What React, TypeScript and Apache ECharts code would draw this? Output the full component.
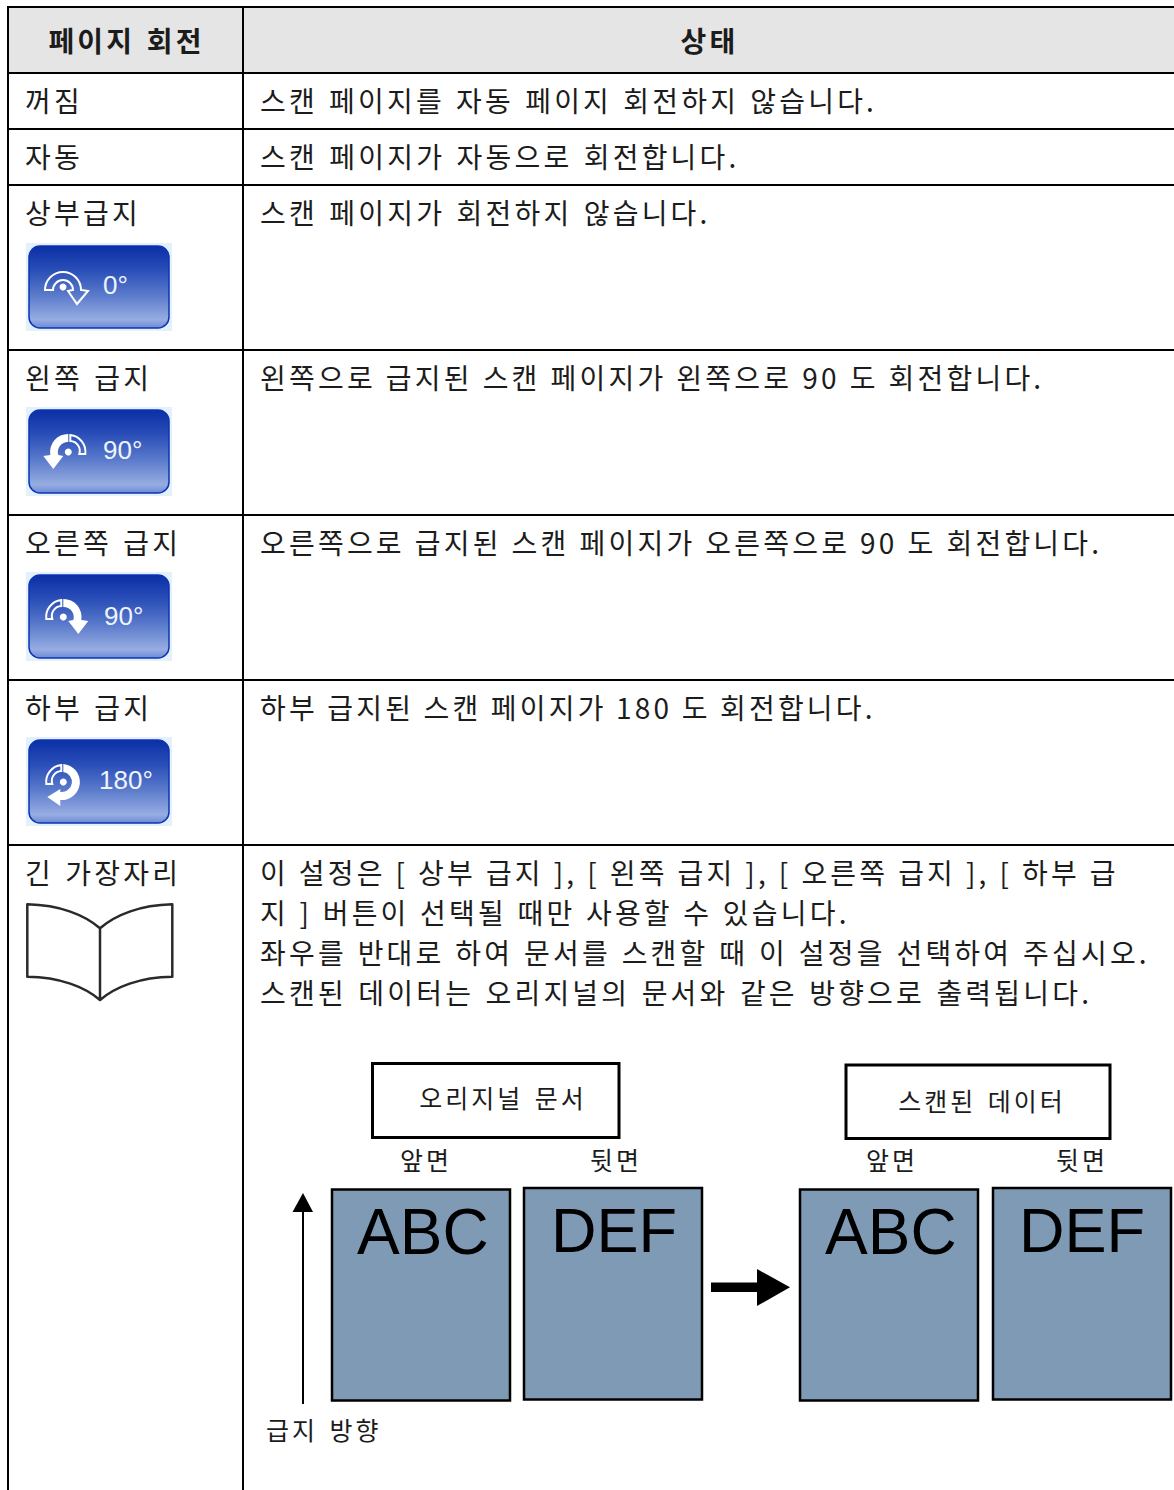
import React, { useEffect, useRef } from "react";
import * as echarts from "echarts";

const headers = ["페이지 회전", "상태"];
const settingLabels = ["꺼짐", "자동", "상부급지", "왼쪽 급지", "오른쪽 급지", "하부 급지", "긴 가장자리"];
const statusTexts = [
  "스캔 페이지를 자동 페이지 회전하지 않습니다.",
  "스캔 페이지가 자동으로 회전합니다.",
  "스캔 페이지가 회전하지 않습니다.",
  "왼쪽으로 급지된 스캔 페이지가 왼쪽으로 90 도 회전합니다.",
  "오른쪽으로 급지된 스캔 페이지가 오른쪽으로 90 도 회전합니다.",
  "하부 급지된 스캔 페이지가 180 도 회전합니다.",
];
const longEdgeLines = [
  "이 설정은 [ 상부 급지 ], [ 왼쪽 급지 ], [ 오른쪽 급지 ], [ 하부 급",
  "지 ] 버튼이 선택될 때만 사용할 수 있습니다.",
  "좌우를 반대로 하여 문서를 스캔할 때 이 설정을 선택하여 주십시오.",
  "스캔된 데이터는 오리지널의 문서와 같은 방향으로 출력됩니다.",
];
const buttonLabels = ["0°", "90°", "90°", "180°"];
const diagramTitles = ["오리지널 문서", "스캔된 데이터"];
const sideLabels = ["앞면", "뒷면"];
const pageLabels = ["ABC", "DEF"];
const feedLabel = "급지 방향";

const KR = "'Noto Sans CJK KR'";
const LAT = "'Liberation Sans'";

// word spacing per line (px), where numerals and brackets set narrower in the source
const wordSpacingOverrides: Record<string, number> = {
  [statusTexts[0]]: 1.7,
  [statusTexts[3]]: 0.5,
  [statusTexts[4]]: 0.5,
  [statusTexts[5]]: -0.1,
  [longEdgeLines[0]]: 0.4,
  [longEdgeLines[1]]: 1.05,
  [longEdgeLines[2]]: 1.3,
};

echarts.graphic.registerShape(
  "iconOutline",
  echarts.graphic.extendPath(
    "M-18,3 A18,18 0 1 1 18,3 L25,4 L14,17 L5,4 L10,3 A10,10 0 1 0 -10,3 Z",
    {}
  )
);
echarts.graphic.registerShape(
  "iconFilled90",
  echarts.graphic.extendPath("M0,-18 A18,18 0 0 1 18,3 L25,4 L15,17 L5,4 L10,3 A10,10 0 0 0 0,-10 Z", {})
);
echarts.graphic.registerShape(
  "iconHollow",
  echarts.graphic.extendPath("M-17,2 A17,17 0 0 1 -2,-17 L-2,-11 A10,10 0 0 0 -11,2 Z", {})
);
echarts.graphic.registerShape(
  "iconFilled180",
  echarts.graphic.extendPath("M0,-18 A18,18 0 1 1 -3,18 L-3,24 L-16,15 L-3,7 L-3,10 A10,10 0 1 0 0,-10 Z", {})
);
echarts.graphic.registerShape(
  "bookShape",
  echarts.graphic.extendPath(
    "M27.3,904.3 C60,905 85,915 100,928.3 C115,915 140,905 172.3,904.3 L172.3,976.7 C140,977 115,987 100,1000 C85,987 60,977 27.3,976.7 Z M100,928.3 L100,1000",
    {}
  )
);

function krText(text: string, x: number, y: number, fontSize = 28, align = "left", weight: any = "normal") {
  return {
    type: "text",
    x,
    y,
    style: {
      text,
      x: 0,
      y: 0,
      fill: "#1c1c1c",
      font: `${weight} ${fontSize}px ${KR}`,
      textAlign: align,
      textVerticalAlign: "middle",
    },
  };
}
function latText(text: string, x: number, y: number, fontSize: number, fill: string, extra: any = {}) {
  return {
    type: "text",
    x,
    y,
    style: {
      text,
      x: 0,
      y: 0,
      fill,
      font: `${fontSize}px ${LAT}`,
      textAlign: "left",
      textVerticalAlign: "middle",
      ...extra,
    },
  };
}
const block = (x: number, y: number, w: number, h: number, fill = "#000") => ({
  type: "rect",
  shape: { x, y, width: w, height: h },
  style: { fill },
});
const frame = (x0: number, y0: number, x1: number, y1: number, fill: string, lineWidth: number) => ({
  type: "rect",
  shape: { x: x0, y: y0, width: x1 - x0, height: y1 - y0 },
  style: { fill, stroke: "#000", lineWidth },
});

function button(top: number, bottom: number, label: string, labelX: number, textY: number, icon: any[]) {
  return [
    block(26, top - 3, 146, bottom - top + 6, "#e4f0fb"),
    {
      type: "rect",
      shape: { x: 29, y: top, width: 140, height: bottom - top, r: 11 },
      style: {
        stroke: "#0a35b4",
        lineWidth: 1.5,
        fill: new echarts.graphic.LinearGradient(0, 0, 0, 1, [
          { offset: 0, color: "#0b2fa6" },
          { offset: 0.3, color: "#2a4fb8" },
          { offset: 0.6, color: "#5a7acb" },
          { offset: 0.9, color: "#97ade2" },
          { offset: 1, color: "#6d8ad8" },
        ]),
      },
    },
    ...icon,
    latText(label, labelX, textY, 26, "#eef3fc"),
  ];
}
const dot = (x: number, y: number) => ({ type: "circle", shape: { cx: x, cy: y, r: 3.5 }, style: { fill: "#fff" } });
const outlineStyle = { fill: "none", stroke: "#fff", lineWidth: 2 };
const solidStyle = { fill: "#fff" };

function buildGraphics() {
  const els: any[] = [];
  els.push(block(8, 6, 1166, 67, "#e5e5e5"));
  [6, 72, 128, 184, 349, 514, 679, 844].forEach((y) => els.push(block(7, y, 1167, 2)));
  els.push(block(7, 6, 2, 1484));
  els.push(block(242, 6, 2, 1484));

  els.push(krText(headers[0], 126.5, 39.5, 28, "center", "bold"));
  els.push(krText(headers[1], 709.5, 39.5, 28, "center", "bold"));

  const labelY = [100, 156, 212, 377, 542, 707, 872];
  settingLabels.forEach((t, i) => els.push(krText(t, 25, labelY[i])));
  statusTexts.forEach((t, i) => els.push(krText(t, 260, labelY[i])));
  longEdgeLines.forEach((t, i) => els.push(krText(t, 260, 872 + i * 40)));

  els.push(
    ...button(246, 328, buttonLabels[0], 103, 285, [
      { type: "iconOutline", x: 63, y: 287, style: outlineStyle },
      dot(63, 287),
    ])
  );
  els.push(
    ...button(410, 493, buttonLabels[1], 103, 450, [
      { type: "iconFilled90", x: 68.3, y: 452, scaleX: -1, style: solidStyle },
      { type: "iconHollow", x: 68.3, y: 452, scaleX: -1, style: outlineStyle },
      dot(68.3, 452),
    ])
  );
  els.push(
    ...button(575, 658, buttonLabels[2], 104, 616, [
      { type: "iconFilled90", x: 63.3, y: 617, style: solidStyle },
      { type: "iconHollow", x: 63.3, y: 617, style: outlineStyle },
      dot(63.3, 617),
    ])
  );
  els.push(
    ...button(740, 823, buttonLabels[3], 99, 780, [
      { type: "iconFilled180", x: 63.3, y: 782, style: solidStyle },
      { type: "iconHollow", x: 63.3, y: 782, style: outlineStyle },
      dot(63.3, 782),
    ])
  );

  els.push({ type: "bookShape", style: { fill: "none", stroke: "#2a2a2a", lineWidth: 2.5, lineJoin: "round" } });

  els.push(frame(372.5, 1063.5, 619, 1137.5, "#fff", 3));
  els.push(frame(846, 1065, 1110, 1138.5, "#fff", 3));
  els.push(krText(diagramTitles[0], 503, 1097, 25, "center"));
  els.push(krText(diagramTitles[1], 982, 1100, 25, "center"));
  [426, 616].forEach((x, i) => els.push(krText(sideLabels[i], x, 1159, 25, "center")));
  [892, 1082].forEach((x, i) => els.push(krText(sideLabels[i], x, 1159, 25, "center")));
  const fillPage = "#7f9ab5";
  els.push(frame(332, 1189.5, 510, 1400.5, fillPage, 2.5));
  els.push(frame(524, 1188, 702, 1399.5, fillPage, 2.5));
  els.push(frame(800, 1189.5, 978, 1400.5, fillPage, 2.5));
  els.push(frame(993, 1188, 1171, 1399.5, fillPage, 2.5));
  els.push(latText(pageLabels[0], 357, 1232, 64, "#000"));
  els.push(latText(pageLabels[1], 551, 1230, 63, "#000"));
  els.push(latText(pageLabels[0], 825, 1232, 64, "#000"));
  els.push(latText(pageLabels[1], 1019, 1230, 63, "#000"));
  els.push(block(302, 1210, 2, 194));
  els.push({ type: "polygon", shape: { points: [[303, 1193], [292.5, 1212], [313, 1212]] }, style: { fill: "#000" } });
  els.push(krText(feedLabel, 266, 1429, 25));
  els.push(block(711, 1282.5, 47, 9.5));
  els.push({ type: "polygon", shape: { points: [[757, 1269], [790, 1287.3], [757, 1306]] }, style: { fill: "#000" } });
  return els;
}

export default function App() {
  const ref = useRef<HTMLDivElement>(null);
  useEffect(() => {
    const chart = echarts.init(ref.current!, null, { renderer: "svg" });
    chart.setOption({ animation: false, graphic: { elements: buildGraphics() } });
    ref.current!.querySelectorAll("text").forEach((t) => {
      const ws = wordSpacingOverrides[t.textContent || ""];
      if (ws !== undefined) (t as any).style.wordSpacing = ws + "px";
    });
    return () => chart.dispose();
  }, []);
  return (
    <>
      <style>{`
        #tbl text { letter-spacing: 3.2px; word-spacing: 1.9px; }
        #tbl text[style*="25px"] { letter-spacing: 3px; word-spacing: 3px; }
        #tbl text[style*="Liberation"] { letter-spacing: 0; word-spacing: 0; }
      `}</style>
      <div
        id="tbl"
        ref={ref}
        style={{ position: "absolute", left: 0, top: 0, width: 1174, height: 1490, background: "#fff" }}
      />
    </>
  );
}
